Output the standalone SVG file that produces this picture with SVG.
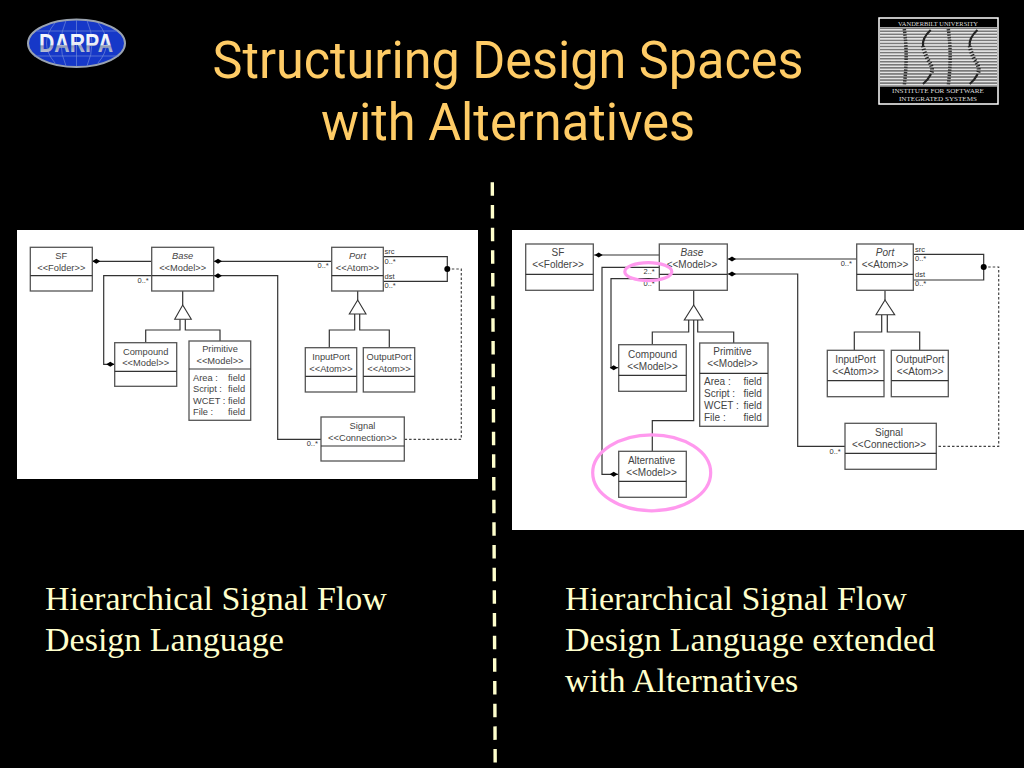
<svg xmlns="http://www.w3.org/2000/svg" width="1024" height="768" viewBox="0 0 1024 768">
<style>
.t{font-family:Roboto,"Liberation Sans",Arial,sans-serif;fill:#ffcc66;font-size:51px;text-anchor:middle}
.c{font-family:"Liberation Serif","Times New Roman",serif;fill:#ffffcc;font-size:34px}
.b{fill:#fff;stroke:#555;stroke-width:1.3}
.l{fill:none;stroke:#333;stroke-width:1.2}
.d{fill:none;stroke:#444;stroke-width:1.2;stroke-dasharray:2.5 2}
.tri{fill:#fff;stroke:#333;stroke-width:1.1}
.n{font-family:"Liberation Sans",Arial,sans-serif;fill:#444;font-size:9.3px;text-anchor:middle}
.r .n{font-size:10px}
.i{font-style:italic}
.s{font-family:"Liberation Sans",Arial,sans-serif;fill:#333;font-size:7.5px}
.f{font-family:"Liberation Sans",Arial,sans-serif;fill:#444;font-size:9.3px}
.r .f{font-size:10px}
.p{fill:none;stroke:#ff99ee;stroke-width:3.2}
.lg{font-family:"Liberation Serif","Times New Roman",serif;fill:#ddd;text-anchor:middle}
</style>
<defs>
<pattern id="st" width="4" height="3.05" patternUnits="userSpaceOnUse"><rect width="4" height="3.05" fill="#e4e4e4"/><rect width="4" height="1.5" fill="#777"/></pattern>
<linearGradient id="dg" x1="0" y1="0" x2="0" y2="1"><stop offset="0" stop-color="#fff"/><stop offset=".55" stop-color="#e8ecf4"/><stop offset=".6" stop-color="#8f9ab8"/><stop offset="1" stop-color="#dfe4f0"/></linearGradient>
</defs>
<rect width="1024" height="768" fill="#000"/>

<g id="darpa-logo">
<ellipse cx="76.500" cy="43.300" rx="48.500" ry="23.700" fill="#1638c8" stroke="#9aa3b0" stroke-width="2"/>
<path d="M76.500 20V66M55 23Q38 43 55 63M98 23Q115 43 98 63M66 20.500Q56 43 66 66M87 20.500Q97 43 87 66M36 31H117M34 56H119" fill="none" stroke="#6f86d8" stroke-width=".7"/>
<text x="39" y="52" textLength="74" lengthAdjust="spacingAndGlyphs" font-family="Liberation Sans,Arial,sans-serif" font-weight="700" font-size="26" fill="url(#dg)">DARPA</text>
</g>

<g id="isis-logo">
<rect x="879" y="18" width="119" height="86" fill="#000" stroke="#fff" stroke-width="1.5"/>
<rect x="880" y="27" width="117" height="60" fill="url(#st)"/>
<path d="M904.300 29Q908 56 904.300 85M948.300 29Q952 56 948.300 85" fill="none" stroke="#333" stroke-width="3.500" stroke-dasharray="1.500 1.200"/>
<path d="M930.700 30Q922 38 923 46M931 74Q928 80 923 84M977.400 30Q968.700 38 969.700 46M977.700 74Q974.700 80 969.700 84" fill="none" stroke="#222" stroke-width="2.200"/>
<path d="M923 46Q924 52 928 60Q934 68 931 74M969.700 46Q970.700 52 974.700 60Q980.700 68 977.700 74" fill="none" stroke="#222" stroke-width="4" stroke-dasharray="1.300 1.700"/>
<text class="lg" x="938" y="26" font-size="6.200" textLength="80" lengthAdjust="spacingAndGlyphs">VANDERBILT UNIVERSITY</text>
<text class="lg" x="938" y="93" font-size="6.800" textLength="92" lengthAdjust="spacingAndGlyphs">INSTITUTE FOR SOFTWARE</text>
<text class="lg" x="938" y="100.800" font-size="6.800" textLength="78" lengthAdjust="spacingAndGlyphs">INTEGRATED SYSTEMS</text>
</g>

<g id="title">
<text class="t" x="508" y="78" textLength="591" lengthAdjust="spacingAndGlyphs">Structuring Design Spaces</text>
<text class="t" x="508" y="140" textLength="374" lengthAdjust="spacingAndGlyphs">with Alternatives</text>
</g>

<g id="divider"><path d="M492.300 182.300L495.200 768" stroke="#ffffcc" stroke-width="3.400" stroke-dasharray="13.500 9.170" fill="none"/></g>

<g id="left-diagram">
<rect x="17" y="230" width="461" height="249" fill="#fff"/>
<g id="left-connectors">
<path class="l" d="M92.300 261.300H151.700"/>
<path class="l" d="M213.700 261.300H331.700"/>
<path class="l" d="M213.700 275.700H277.700V439.300H321"/>
<path class="l" d="M151.700 275.700H103.700V364.300H114.700"/>
<path class="l" d="M182.700 291V305M180 319.300V330H145.700V342.700M185.300 319.300V330H220V341"/>
<path class="l" d="M357.700 291V300M354.700 314V330H329.300V347.700M359.700 314V330H389.300V347.700"/>
<path class="l" d="M383.300 256.700H447.300V281.300H383.300"/>
<path class="d" d="M447.300 269H461.300V439.300H404.300"/>
<path d="M92.300 261.300L96.300 258.800 100.300 261.300 96.300 263.800ZM214 261.300L218 258.800 222 261.300 218 263.800ZM214 275.700L218 273.200 222 275.700 218 278.200ZM106.300 364.300L110.300 361.800 114.300 364.300 110.300 366.800Z" fill="#000"/>
<circle cx="447.300" cy="269" r="3" fill="#000"/>
<path class="tri" d="M182.700 305L191.300 319.300H174.700Z"/>
<path class="tri" d="M357.700 300L366 314H349.300Z"/>
</g>
<g id="l-sf"><rect class="b" x="30.300" y="247.300" width="62" height="43.700"/><path class="l" d="M30.300 275.700H92.300"/><text class="n" x="61.300" y="258.500">SF</text><text class="n" x="61.300" y="270.500">&lt;&lt;Folder&gt;&gt;</text></g>
<g id="l-base"><rect class="b" x="151.700" y="247.300" width="62" height="43.700"/><path class="l" d="M151.700 275.700H213.700"/><text class="n i" x="182.700" y="258.500">Base</text><text class="n" x="182.700" y="270.500">&lt;&lt;Model&gt;&gt;</text></g>
<g id="l-port"><rect class="b" x="331.700" y="247.300" width="51.600" height="43.700"/><path class="l" d="M331.700 275.700H383.300"/><text class="n i" x="357.500" y="258.500">Port</text><text class="n" x="357.500" y="270.500">&lt;&lt;Atom&gt;&gt;</text></g>
<g id="l-compound"><rect class="b" x="114.700" y="342.700" width="62" height="43.600"/><path class="l" d="M114.700 371.300H176.700"/><text class="n" x="145.700" y="354.500">Compound</text><text class="n" x="145.700" y="366">&lt;&lt;Model&gt;&gt;</text></g>
<g id="l-primitive"><rect class="b" x="189" y="341" width="61.700" height="79.300"/><path class="l" d="M189 369H250.700"/><text class="n" x="220" y="352">Primitive</text><text class="n" x="220" y="364">&lt;&lt;Model&gt;&gt;</text>
<text class="f" x="193" y="381">Area :</text><text class="f" x="228" y="381">field</text><text class="f" x="193" y="392">Script :</text><text class="f" x="228" y="392">field</text><text class="f" x="193" y="403.500">WCET :</text><text class="f" x="228" y="403.500">field</text><text class="f" x="193" y="415">File :</text><text class="f" x="228" y="415">field</text></g>
<g id="l-inputport"><rect class="b" x="305.300" y="347.700" width="51.400" height="44.300"/><path class="l" d="M305.300 376.300H356.700"/><text class="n" x="331" y="360">InputPort</text><text class="n" x="331" y="371.500">&lt;&lt;Atom&gt;&gt;</text></g>
<g id="l-outputport"><rect class="b" x="363.300" y="347.700" width="51.400" height="44.300"/><path class="l" d="M363.300 376.300H414.700"/><text class="n" x="389" y="360">OutputPort</text><text class="n" x="389" y="371.500">&lt;&lt;Atom&gt;&gt;</text></g>
<g id="l-signal"><rect class="b" x="321" y="417" width="83.300" height="44"/><path class="l" d="M321 446H404.300"/><text class="n" x="362.500" y="429">Signal</text><text class="n" x="362.500" y="441">&lt;&lt;Connection&gt;&gt;</text></g>
<g id="l-labels">
<text class="s" x="137.500" y="283">0..*</text><text class="s" x="317.500" y="268">0..*</text><text class="s" x="384.500" y="254">src</text><text class="s" x="384.500" y="263.500">0..*</text><text class="s" x="384.500" y="279">dst</text><text class="s" x="384.500" y="288">0..*</text><text class="s" x="306.700" y="446">0..*</text>
</g>
</g>

<g id="right-diagram" class="r">
<rect x="512" y="230" width="512" height="300" fill="#fff"/>
<g id="right-connectors">
<path class="l" d="M593.300 255H659.300"/>
<path class="l" d="M727.300 259H856.700"/>
<path class="l" d="M727.300 274H797.700V446.300H845"/>
<path class="l" d="M659.300 267.300H602V474.300H618.700"/>
<path class="l" d="M659.300 278.700H611V367.700H618.700"/>
<path class="l" d="M693.700 290.300V305M693.700 320V420.700H652.300V451.300M688.700 320V332H652.300V344.700M697.700 320V332H733.700V343"/>
<path class="l" d="M885 290.300V300M881.700 314.700V332H854.300V350.300M887.300 314.700V332H919.700V350.300"/>
<path class="l" d="M913.300 254.300H983.700V280H913.300"/>
<path class="d" d="M983.700 267H998.700V446.300H936.300"/>
<path d="M594.700 255L598.700 252.500 602.700 255 598.700 257.500ZM728 259L732 256.500 736 259 732 261.500ZM728 274L732 271.500 736 274 732 276.500ZM609.700 367.700L613.700 365.200 617.700 367.700 613.700 370.200ZM609.700 474.300L613.700 471.800 617.700 474.300 613.700 476.800Z" fill="#000"/>
<circle cx="983.700" cy="267" r="3" fill="#000"/>
<path class="tri" d="M693.700 305L703 320H684.300Z"/>
<path class="tri" d="M885 300L894.700 314.700H876Z"/>
</g>
<g id="r-sf"><rect class="b" x="525.700" y="244" width="67.600" height="46.300"/><path class="l" d="M525.700 274.300H593.300"/><text class="n" x="558" y="256">SF</text><text class="n" x="558" y="268">&lt;&lt;Folder&gt;&gt;</text></g>
<g id="r-base"><rect class="b" x="659.300" y="244" width="68" height="46.300"/><path class="l" d="M659.300 274.300H727.300"/><text class="n i" x="692" y="256">Base</text><text class="n" x="692" y="268">&lt;&lt;Model&gt;&gt;</text></g>
<g id="r-port"><rect class="b" x="856.700" y="244" width="56.600" height="46.300"/><path class="l" d="M856.700 274.300H913.300"/><text class="n i" x="885" y="256">Port</text><text class="n" x="885" y="268">&lt;&lt;Atom&gt;&gt;</text></g>
<g id="r-compound"><rect class="b" x="618.700" y="344.700" width="67.600" height="46.600"/><path class="l" d="M618.700 375.300H686.300"/><text class="n" x="652.500" y="357.500">Compound</text><text class="n" x="652.500" y="369.500">&lt;&lt;Model&gt;&gt;</text></g>
<g id="r-primitive"><rect class="b" x="699.700" y="343" width="68.300" height="83.300"/><path class="l" d="M699.700 373.300H768"/><text class="n" x="732.500" y="355">Primitive</text><text class="n" x="732.500" y="367">&lt;&lt;Model&gt;&gt;</text>
<text class="f" x="704" y="385">Area :</text><text class="f" x="743.500" y="385">field</text><text class="f" x="704" y="397">Script :</text><text class="f" x="743.500" y="397">field</text><text class="f" x="704" y="409">WCET :</text><text class="f" x="743.500" y="409">field</text><text class="f" x="704" y="421">File :</text><text class="f" x="743.500" y="421">field</text></g>
<g id="r-alternative"><rect class="b" x="618.700" y="451.300" width="67.600" height="46"/><path class="l" d="M618.700 481.300H686.300"/><text class="n" x="651.500" y="464">Alternative</text><text class="n" x="651.500" y="476">&lt;&lt;Model&gt;&gt;</text></g>
<g id="r-inputport"><rect class="b" x="827.300" y="350.300" width="56.700" height="46.400"/><path class="l" d="M827.300 380.700H884"/><text class="n" x="855.500" y="363">InputPort</text><text class="n" x="855.500" y="375">&lt;&lt;Atom&gt;&gt;</text></g>
<g id="r-outputport"><rect class="b" x="891.300" y="350.300" width="57" height="46.400"/><path class="l" d="M891.300 380.700H948.300"/><text class="n" x="920" y="363">OutputPort</text><text class="n" x="920" y="375">&lt;&lt;Atom&gt;&gt;</text></g>
<g id="r-signal"><rect class="b" x="845" y="423.300" width="91.300" height="46"/><path class="l" d="M845 453.300H936.300"/><text class="n" x="889" y="436">Signal</text><text class="n" x="889" y="448">&lt;&lt;Connection&gt;&gt;</text></g>
<g id="r-labels">
<text class="s" x="643.500" y="274">2..*</text><text class="s" x="643.500" y="286">0..*</text><text class="s" x="840.700" y="266">0..*</text><text class="s" x="915" y="252">src</text><text class="s" x="915" y="261">0..*</text><text class="s" x="915" y="277">dst</text><text class="s" x="915" y="286">0..*</text><text class="s" x="829.500" y="453.500">0..*</text>
</g>
<ellipse class="p" cx="648.300" cy="271.700" rx="23.500" ry="9"/>
<ellipse class="p" cx="651.700" cy="472.800" rx="59" ry="38"/>
</g>

<g id="captions">
<text class="c" x="45" y="610">Hierarchical Signal Flow</text>
<text class="c" x="45" y="651">Design Language</text>
<text class="c" x="565" y="610">Hierarchical Signal Flow</text>
<text class="c" x="565" y="651">Design Language extended</text>
<text class="c" x="565" y="692">with Alternatives</text>
</g>
</svg>
